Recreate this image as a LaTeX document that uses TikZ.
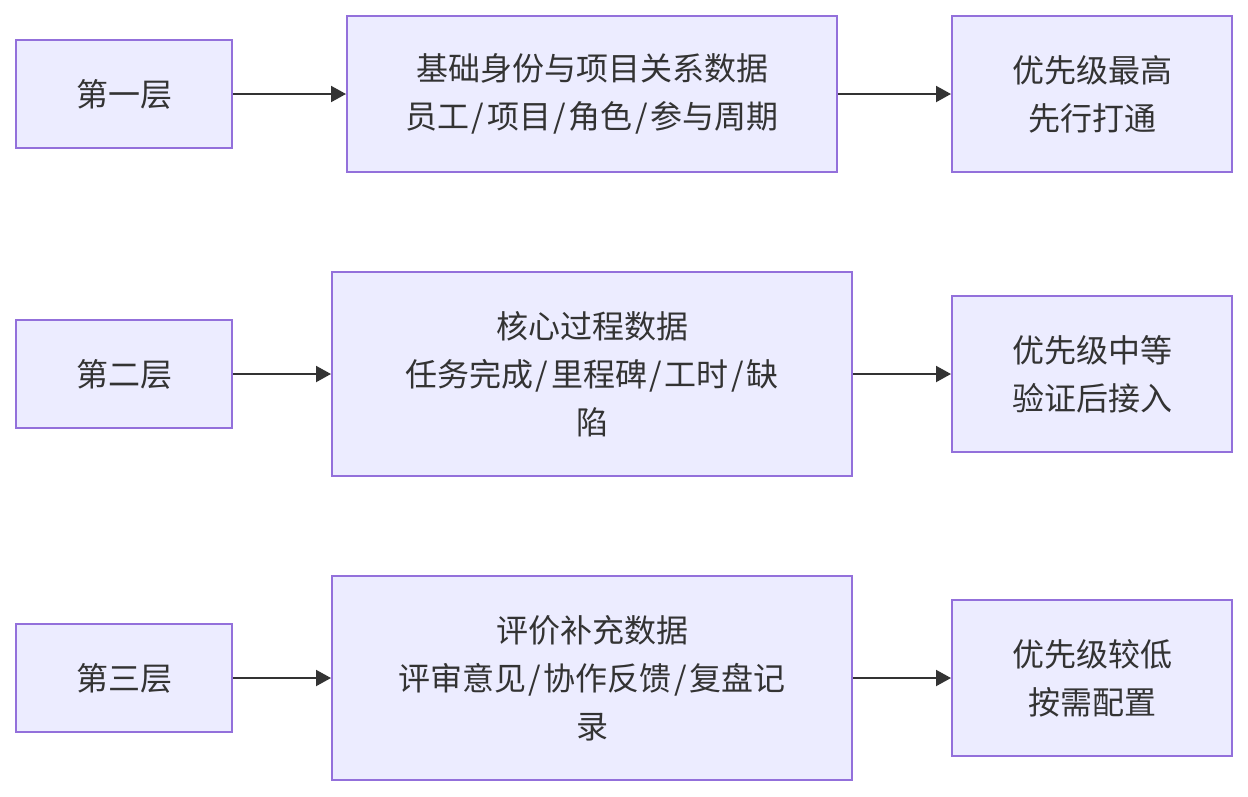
\documentclass[tikz,border=0pt]{standalone}
\usepackage{fontspec}
\setmainfont{Noto Sans CJK SC}
\usetikzlibrary{arrows.meta}
\definecolor{boxfill}{HTML}{ECECFF}
\definecolor{boxline}{HTML}{9370DB}
\definecolor{txt}{HTML}{333333}
\tikzset{
  box/.style={draw=boxline, fill=boxfill, line width=2pt, text=txt, align=center, inner sep=0pt,
    font=\fontsize{32}{48}\selectfont},
  conn/.style={draw=txt, line width=2pt, -{Triangle[length=15pt,width=16pt]}},
}
\newcommand{\sls}{\kern2.6pt/\kern2.6pt}
\newcommand{\bx}[6]{% name, x1, y1, x2, y2, text
  \node[box, minimum width={#4-#2}, minimum height={#5-#3}] (#1) at ({(#2+#4)/2},{(#3+#5)/2}) {#6};}
\begin{document}
\begin{tikzpicture}[x=1pt,y=-1pt]
\useasboundingbox[fill=white] (0,0) rectangle (1248,796);
\bx{l1}{16}{40}{232}{148}{第一层}
\bx{m1}{347}{16}{837}{172}{基础身份与项目关系数据\\员工\sls 项目\sls 角色\sls 参与周期}
\bx{r1}{952}{16}{1232}{172}{优先级最高\\先行打通}
\bx{l2}{16}{320}{232}{428}{第二层}
\bx{m2}{332}{272}{852}{476}{核心过程数据\\任务完成\sls 里程碑\sls 工时\sls 缺\\陷}
\bx{r2}{952}{296}{1232}{452}{优先级中等\\验证后接入}
\bx{l3}{16}{624}{232}{732}{第三层}
\bx{m3}{332}{576}{852}{780}{评价补充数据\\评审意见\sls 协作反馈\sls 复盘记\\录}
\bx{r3}{952}{600}{1232}{756}{优先级较低\\按需配置}
\draw[conn] (l1) -- (m1);
\draw[conn] (m1) -- (r1);
\draw[conn] (l2) -- (m2);
\draw[conn] (m2) -- (r2);
\draw[conn] (l3) -- (m3);
\draw[conn] (m3) -- (r3);
\end{tikzpicture}
\end{document}
